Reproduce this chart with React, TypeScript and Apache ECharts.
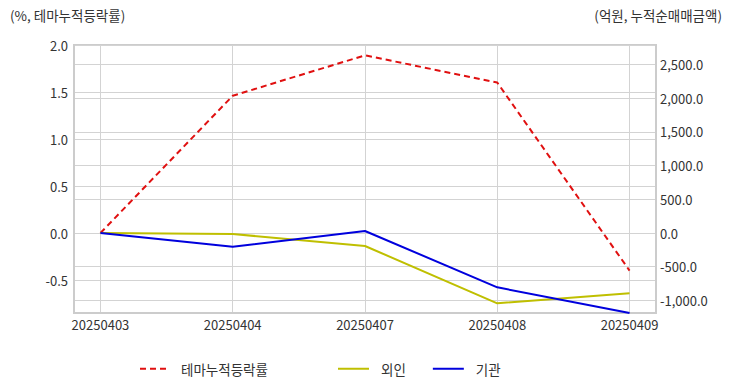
import React, { useEffect, useRef } from "react";
import * as echarts from "echarts";

const categories = ["20250403", "20250404", "20250407", "20250408", "20250409"];
const themeReturn = [0.0, 1.46, 1.89, 1.6, -0.4];
const foreign = [0, -15, -193, -1044, -896];
const institution = [0, -203, 30, -807, -1188];
const leftName = "(%, 테마누적등락률)";
const rightName = "(억원, 누적순매매금액)";
const seriesNames = ["테마누적등락률", "외인", "기관"];

const FONT = "'Noto Sans CJK KR', 'Noto Sans', sans-serif";

export default function App() {
  const ref = useRef<HTMLDivElement>(null);
  useEffect(() => {
    if (!ref.current) return;
    document.body.style.margin = "0";
    const chart = echarts.init(ref.current, undefined, { renderer: "svg" });
    const idx = categories.map((_, i) => i);
    const fmtRight = (v: number) =>
      v.toLocaleString("en-US", { minimumFractionDigits: 1, maximumFractionDigits: 1 });
    chart.setOption({
      animation: false,
      textStyle: { fontFamily: FONT },
      grid: {
        left: 74,
        right: 76,
        top: 45,
        bottom: 79,
        show: true,
        borderColor: "#cccccc",
        borderWidth: 2,
        backgroundColor: "transparent",
      },
      graphic: [
        {
          type: "text",
          left: 10,
          top: 8,
          style: { text: leftName, fill: "#333", font: `13.5px ${FONT}` },
        },
        {
          type: "text",
          right: 10,
          top: 8,
          style: { text: rightName, fill: "#333", font: `13.5px ${FONT}` },
        },
      ],
      legend: [
        {
          data: [seriesNames[0]],
          left: 134,
          top: 357,
          itemWidth: 28,
          itemHeight: 14,
          itemStyle: { opacity: 0 },
          textStyle: { fontSize: 13.5, color: "#333", fontFamily: FONT, padding: [0, 0, 0, 8] },
        },
        {
          data: [seriesNames[1], seriesNames[2]],
          left: 332,
          top: 357,
          itemWidth: 31,
          itemHeight: 14,
          itemGap: 26,
          itemStyle: { opacity: 0 },
          textStyle: { fontSize: 13.5, color: "#333", fontFamily: FONT, padding: [0, 0, 0, 7] },
        },
      ],
      xAxis: {
        type: "value",
        min: -0.2,
        max: 4.2,
        axisLine: { show: true, onZero: false, lineStyle: { color: "#cccccc", width: 2 } },
        axisTick: { show: false, customValues: idx },
        axisLabel: {
          customValues: idx,
          formatter: (v: number) => categories[Math.round(v)] ?? "",
          color: "#333",
          fontSize: 13,
          margin: 5,
          fontFamily: FONT,
        },
        splitLine: { show: true, lineStyle: { color: "#d3d3d3", width: 1 } },
      },
      yAxis: [
        {
          type: "value",
          min: -0.851,
          max: 2.0,
          splitNumber: 6,
          axisLine: { show: true, onZero: false, lineStyle: { color: "#cccccc", width: 2 } },
          axisTick: { show: false },
          axisLabel: {
            showMinLabel: false,
            formatter: (v: number) => v.toFixed(1),
            color: "#333",
            fontSize: 13,
            margin: 6,
            fontFamily: FONT,
          },
          splitLine: { show: true, lineStyle: { color: "#d3d3d3", width: 1 } },
        },
        {
          type: "value",
          min: -1188,
          max: 2792,
          splitNumber: 8,
          position: "right",
          axisLine: { show: true, onZero: false, lineStyle: { color: "#cccccc", width: 2 } },
          axisTick: { show: false },
          axisLabel: {
            showMinLabel: false,
            showMaxLabel: false,
            formatter: fmtRight,
            color: "#333",
            fontSize: 13,
            margin: 4,
            fontFamily: FONT,
          },
          splitLine: { show: true, lineStyle: { color: "#d3d3d3", width: 1 } },
        },
      ],
      series: [
        {
          name: seriesNames[0],
          type: "line",
          yAxisIndex: 0,
          data: themeReturn.map((v, i) => [i, v]),
          symbol: "none",
          lineStyle: { color: "#e01010", width: 2, type: [6, 4] },
          itemStyle: { color: "#e01010" },
        },
        {
          name: seriesNames[1],
          type: "line",
          yAxisIndex: 1,
          data: foreign.map((v, i) => [i, v]),
          symbol: "none",
          lineStyle: { color: "#bfbf00", width: 2 },
          itemStyle: { color: "#bfbf00" },
        },
        {
          name: seriesNames[2],
          type: "line",
          yAxisIndex: 1,
          data: institution.map((v, i) => [i, v]),
          symbol: "none",
          lineStyle: { color: "#0000dd", width: 2 },
          itemStyle: { color: "#0000dd" },
        },
      ],
    });
    return () => chart.dispose();
  }, []);
  return <div ref={ref} style={{ width: 732, height: 392 }} />;
}
